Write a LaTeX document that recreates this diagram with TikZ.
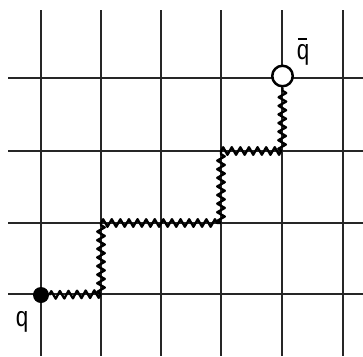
\documentclass[tikz,border=0pt]{standalone}
\usepackage{fontspec}
\setmainfont{Liberation Sans}
\usetikzlibrary{decorations.pathmorphing}
\begin{document}
\begin{tikzpicture}[x=1pt,y=-1pt,
  gridline/.style={line width=1.2pt,draw=black!85},
  spring/.style={line width=2.3pt,line join=round,decorate,decoration={zigzag,segment length=8.6pt,amplitude=3.8pt}},
  quark/.style={circle,fill=black,inner sep=0pt,minimum size=16pt},
  antiquark/.style={circle,draw=black,fill=white,line width=2.5pt,inner sep=0pt,minimum size=20.5pt},
  lab/.style={inner sep=0pt,anchor=base,font=\fontsize{28}{30}\selectfont}]
\useasboundingbox (0,0) rectangle (363,356);
% grid
\foreach \x in {41,101,161,221,282,343} \draw[gridline] (\x,10) -- (\x,356);
\foreach \y in {78,151,223,294} \draw[gridline] (8,\y) -- (363,\y);
% path points
\coordinate (c1) at (101,294);
\coordinate (c2) at (101,223);
\coordinate (c3) at (221,223);
\coordinate (c4) at (221,151);
\coordinate (c5) at (282,151);
\node[quark] (q) at (41,295) {};
\node[antiquark] (qb) at (282.5,76) {};
\draw[spring] (q.east) -- (c1);
\draw[spring] (c1) -- (c2);
\draw[spring] (c2) -- (c3);
\draw[spring] (c3) -- (c4);
\draw[spring] (c4) -- (c5);
\draw[spring] (c5) -- (qb.south);
% labels
\node[lab] (ql) at (22,326.6) {\scalebox{0.8}[1]{q}};
\node[lab] (qbl) at (303,59.6) {\scalebox{0.8}[1]{\rlap{\hspace{0.05em}\rule[0.69em]{0.42em}{0.07em}}q}};
\end{tikzpicture}
\end{document}
